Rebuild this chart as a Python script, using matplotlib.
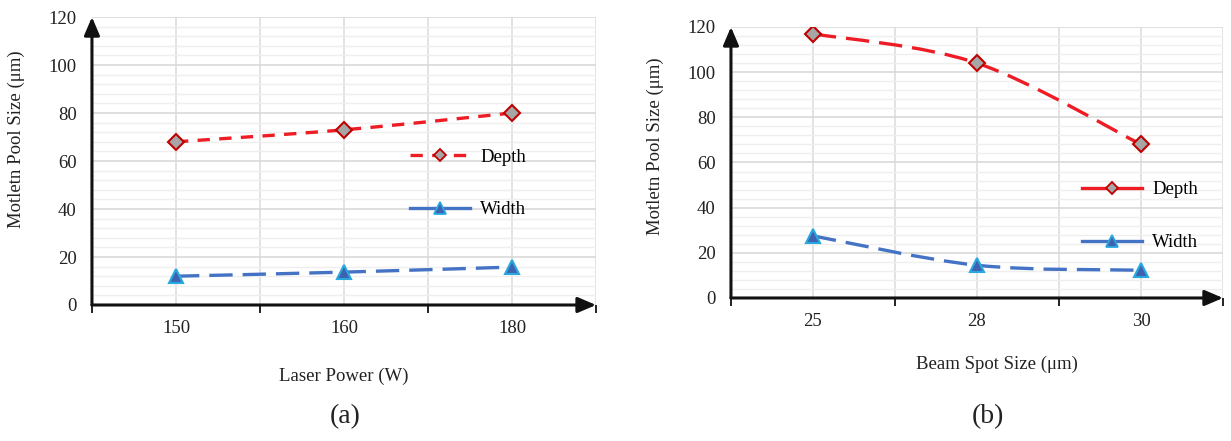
import matplotlib.pyplot as plt
import numpy as np
from matplotlib.lines import Line2D
from matplotlib.patches import PathPatch
from matplotlib.path import Path
from matplotlib.ticker import MultipleLocator, FixedLocator

plt.rcParams["font.family"] = ["Liberation Serif", "DejaVu Serif"]

# (a) laser power
power_labels = ["150", "160", "180"]
power_depth = [68, 73, 80]
power_width = [12, 13.7, 15.8]

# (b) beam spot size
spot_labels = ["25", "28", "30"]
spot_depth = [117, 104, 68]
spot_width = [27.5, 14.5, 12.3]

y_label = "Motletn Pool Size (μm)"

RED = "#ee1c24"
BLUE = "#4472c4"
TXT = "#222222"
FS = 13.5
LW = 2.4


def smooth_path(xs, ys):
    """Curva suavizada estilo Excel (Bezier cúbica)."""
    pts = np.column_stack([xs, ys]).astype(float)
    n = len(pts)
    verts = [pts[0]]
    codes = [Path.MOVETO]
    for i in range(n - 1):
        p0 = pts[i - 1] if i > 0 else pts[i]
        p1, p2 = pts[i], pts[i + 1]
        p3 = pts[i + 2] if i + 2 < n else pts[i + 1]
        c1 = p1 + (p2 - p0) / 6
        c2 = p2 - (p3 - p1) / 6
        verts += [c1, c2, p2]
        codes += [Path.CURVE4] * 3
    return Path(verts, codes)


def draw_panel(ax, labels, depth, width, xlabel, dashes, leg_styles, leg_anchor,
               ylabel_xy, xlabel_xy, tick_pad):
    x = np.arange(len(labels))
    ax.set_xlim(-0.5, len(labels) - 0.5)
    ax.set_ylim(0, 120)

    ax.set_facecolor("white")
    ax.yaxis.set_major_locator(MultipleLocator(20))
    ax.yaxis.set_minor_locator(MultipleLocator(4))
    ax.grid(which="major", axis="y", color="#d9d9d9", lw=1.2, zorder=0)
    ax.grid(which="minor", axis="y", color="#efefef", lw=1.0, zorder=0)
    for gx in np.arange(-0.5, len(labels), 0.5):
        ax.axvline(gx, color="#dedede", lw=1.2, zorder=0)

    ax.set_xticks(x)
    ax.set_xticklabels(labels)
    ax.xaxis.set_minor_locator(FixedLocator(np.arange(-0.5, len(labels), 1.0)))
    ax.tick_params(axis="x", which="major", length=0, pad=tick_pad, labelsize=FS, colors=TXT)
    ax.tick_params(axis="x", which="minor", length=6, width=1.3, direction="out", color="#111111")
    ax.tick_params(axis="y", which="both", length=0, pad=11, labelsize=FS, colors=TXT)

    for s in ax.spines.values():
        s.set_visible(False)
    arrow = dict(arrowstyle="-|>,head_length=1.1,head_width=0.47", color="#111111",
                 lw=2.2, mutation_scale=10, shrinkA=0, shrinkB=0)
    ax.annotate("", xy=(1, 0), xytext=(0, 0), xycoords="axes fraction",
                arrowprops=arrow, annotation_clip=False, zorder=6)
    ax.annotate("", xy=(0, 1), xytext=(0, 0), xycoords="axes fraction",
                arrowprops=arrow, annotation_clip=False, zorder=6)

    for vals, color, dash in ((depth, RED, dashes[0]), (width, BLUE, dashes[1])):
        patch = PathPatch(smooth_path(x, vals), fill=False, edgecolor=color, lw=LW,
                          linestyle=(0, dash), zorder=3, capstyle="butt")
        ax.add_patch(patch)

    ax.plot(x, depth, ls="none", marker="D", ms=8.5, mfc="#a6a6a6", mec="#c00000", mew=1.5, zorder=5)
    ax.plot(x, width, ls="none", marker="^", ms=10, mfc="#3f62b0", mec="#29a8e0", mew=1.5, zorder=5)

    handles = [
        Line2D([], [], color=RED, lw=LW, linestyle=leg_styles[0], marker="D", ms=6.5,
               mfc="#a6a6a6", mec="#c00000", mew=1.3),
        Line2D([], [], color=BLUE, lw=LW, linestyle=leg_styles[1], marker="^", ms=9,
               mfc="#3f62b0", mec="#29a8e0", mew=1.3),
    ]
    leg = ax.legend(handles, ["Depth", "Width"], loc="center left", bbox_to_anchor=leg_anchor,
                    frameon=False, fontsize=FS, handlelength=3.2, labelspacing=1.9,
                    handletextpad=0.55, borderpad=0, borderaxespad=0, numpoints=1)
    leg.set_zorder(7)

    ax.set_ylabel(y_label, fontsize=FS, color=TXT)
    ax.yaxis.set_label_coords(*ylabel_xy)
    ax.set_xlabel(xlabel, fontsize=FS, color=TXT)
    ax.xaxis.set_label_coords(*xlabel_xy)


fig = plt.figure(figsize=(12.31, 4.41), dpi=100)
fig.patch.set_facecolor("white")
ax_a = fig.add_axes([0.0747, 0.3084, 0.4095, 0.653])
ax_b = fig.add_axes([0.5938, 0.3243, 0.3997, 0.6145])

draw_panel(ax_a, power_labels, power_depth, power_width, "Laser Power (W)",
           dashes=((3.7, 2.8), (7, 3)), leg_styles=((0, (3.7, 2.8)), "-"),
           leg_anchor=(0.631, 0.422), ylabel_xy=(-0.133, 0.576), xlabel_xy=(0.5, -0.219),
           tick_pad=10.5)
draw_panel(ax_b, spot_labels, spot_depth, spot_width, "Beam Spot Size (μm)",
           dashes=((7, 3), (7, 3)), leg_styles=("-", "-"),
           leg_anchor=(0.713, 0.302), ylabel_xy=(-0.136, 0.561), xlabel_xy=(0.54, -0.214),
           tick_pad=10.5)

fig.text(345 / 1231, 1 - 417 / 441, "(a)", ha="center", va="center", fontsize=20, color=TXT)
fig.text(988 / 1231, 1 - 417 / 441, "(b)", ha="center", va="center", fontsize=20, color=TXT)

fig.savefig("out.png", dpi=100, facecolor="white")
